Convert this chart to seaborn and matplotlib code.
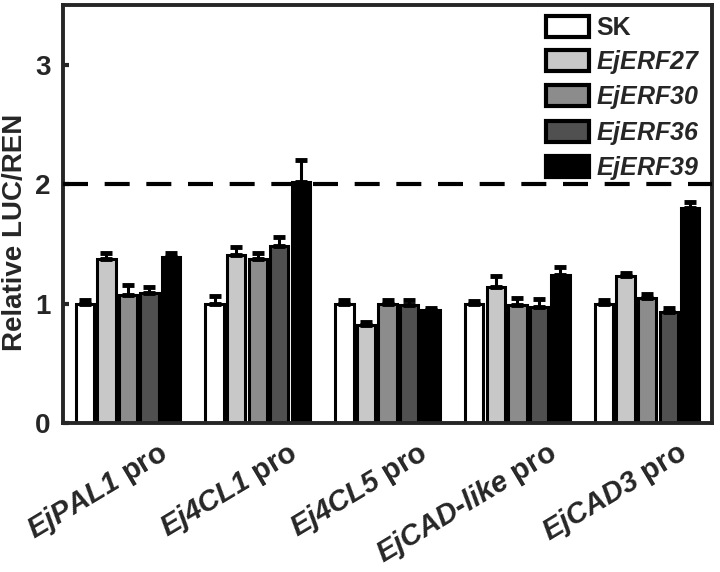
import numpy as np
import pandas as pd
import matplotlib
matplotlib.use("Agg")
import matplotlib.pyplot as plt
import matplotlib.transforms as mtransforms
import seaborn as sns

# ---------- DATA ----------
promoters = ["EjPAL1 pro", "Ej4CL1 pro", "Ej4CL5 pro", "EjCAD-like pro", "EjCAD3 pro"]
tick_labels = [r"$\mathit{EjPAL1}$ pro", r"$\mathit{Ej4CL1}$ pro", r"$\mathit{Ej4CL5}$ pro",
               r"$\mathit{EjCAD}$-$\mathit{like}$ pro", r"$\mathit{EjCAD3}$ pro"]
constructs = ["SK", "EjERF27", "EjERF30", "EjERF36", "EjERF39"]
legend_labels = ["SK", r"$\mathit{EjERF27}$", r"$\mathit{EjERF30}$",
                 r"$\mathit{EjERF36}$", r"$\mathit{EjERF39}$"]

sk      = [1.00, 1.00, 1.00, 1.00, 1.00]
erf27   = [1.37, 1.41, 0.82, 1.14, 1.23]
erf30   = [1.07, 1.37, 1.00, 0.99, 1.05]
erf36   = [1.09, 1.48, 0.99, 0.97, 0.93]
erf39   = [1.39, 2.02, 0.95, 1.24, 1.80]

sk_err    = [0.03, 0.06, 0.03, 0.02, 0.03]
erf27_err = [0.05, 0.06, 0.03, 0.09, 0.03]
erf30_err = [0.09, 0.05, 0.03, 0.06, 0.03]
erf36_err = [0.05, 0.08, 0.04, 0.07, 0.03]
erf39_err = [0.03, 0.18, 0.01, 0.07, 0.05]

colors = ["#ffffff", "#c8c8c8", "#8c8c8c", "#505050", "#000000"]

values = [sk, erf27, erf30, erf36, erf39]
errors = [sk_err, erf27_err, erf30_err, erf36_err, erf39_err]

df = pd.DataFrame({
    "promoter": np.tile(promoters, len(constructs)),
    "construct": np.repeat(constructs, len(promoters)),
    "value": np.concatenate(values),
})

# ---------- STYLE ----------
sns.set_style("ticks")
plt.rcParams["font.family"] = ["Liberation Sans", "DejaVu Sans"]
plt.rcParams["font.weight"] = "bold"
plt.rcParams["mathtext.fontset"] = "custom"
# digits inside math use the rm font, so make it bold italic too
plt.rcParams["mathtext.it"] = "Liberation Sans:italic:bold"
plt.rcParams["mathtext.rm"] = "Liberation Sans:italic:bold"
plt.rcParams["mathtext.bf"] = "Liberation Sans:italic:bold"

fig = plt.figure(figsize=(7.2, 5.72), dpi=100)
ax = fig.add_axes([0.0875, 0.2605, 0.9015, 0.7305])

sns.barplot(data=df, x="promoter", y="value", hue="construct", order=promoters,
            hue_order=constructs, palette=dict(zip(constructs, colors)),
            edgecolor="black", linewidth=2.2, width=0.83, gap=0.15,
            errorbar=None, saturation=1, ax=ax)

# upper error bars only
for cont, err in zip(ax.containers, errors):
    xs = [p.get_x() + p.get_width() / 2 for p in cont]
    ys = [p.get_height() for p in cont]
    ax.errorbar(xs, ys, yerr=[np.zeros(len(err)), err], fmt="none",
                ecolor="black", elinewidth=2.2, capsize=4, capthick=3.5, zorder=3)

ax.axhline(2, color="black", lw=3, ls=(0, (6, 4)), zorder=4)

ax.set_xlim(-0.5, 4.5)
ax.set_ylim(0, 3.5)
ax.set_yticks([0, 1, 2, 3])
ax.set_yticklabels(["0", "1", "2", "3"], fontsize=20, fontweight="bold")
ax.tick_params(axis="y", direction="in", length=4, width=3, pad=9)
ax.tick_params(axis="x", length=0, pad=0)
ax.set_xticks(range(len(promoters)))
ax.set_xticklabels(tick_labels, fontsize=21, fontweight="bold", rotation=31,
                   ha="right", va="top", rotation_mode="anchor")
shift = mtransforms.ScaledTranslation(0.29, -0.14, fig.dpi_scale_trans)
for lab in ax.get_xticklabels():
    lab.set_transform(lab.get_transform() + shift)

ax.set_xlabel("")
ax.set_ylabel("Relative LUC/REN", fontsize=20, fontweight="bold")
ax.yaxis.set_label_coords(-0.054, 0.455)

for s in ax.spines.values():
    s.set_visible(True)
    s.set_linewidth(2.8)

handles, _ = ax.get_legend_handles_labels()
leg = ax.legend(handles, legend_labels, loc="upper right", frameon=False,
                fontsize=18, handlelength=1.7, handleheight=0.9,
                handletextpad=0.3, labelspacing=0.3, borderaxespad=0.05)
for h in leg.legend_handles:
    h.set_edgecolor("black")
    h.set_linewidth(3)

fig.savefig("out.png", dpi=100)
